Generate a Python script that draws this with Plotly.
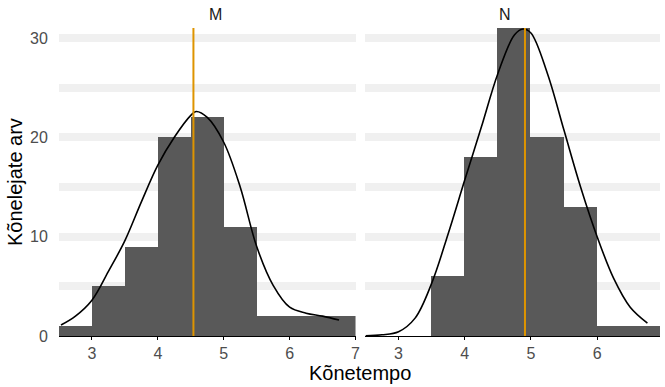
import plotly.graph_objects as go

# Histogram bins (width 0.5) shared by both panels
bin_left = [2.5, 3.0, 3.5, 4.0, 4.5, 5.0, 5.5, 6.0, 6.5]
bin_width = 0.5

# Counts per bin
counts_m = [1, 5, 9, 20, 22, 11, 2, 2, 2]
counts_n = [0, 0, 6, 18, 31, 20, 13, 1, 1]

# Mean speech tempo per group
mean_m = 4.54
mean_n = 4.91

# Density curves scaled to counts
dens_x_m = [2.53, 2.75, 3.0, 3.25, 3.5, 3.75, 4.0, 4.25, 4.5, 4.58, 4.75, 5.0, 5.25, 5.5, 5.75, 6.0, 6.25, 6.5, 6.75]
dens_y_m = [1.1, 2.0, 3.6, 6.5, 9.6, 13.5, 17.2, 20.0, 22.2, 22.6, 22.0, 19.5, 15.0, 9.0, 5.1, 2.9, 2.3, 2.0, 1.6]
dens_x_n = [2.5, 2.75, 3.0, 3.25, 3.5, 3.75, 4.0, 4.25, 4.5, 4.75, 4.88, 5.0, 5.25, 5.5, 5.75, 6.0, 6.25, 6.5, 6.76]
dens_y_n = [0.03, 0.12, 0.43, 1.8, 5.3, 10.3, 15.7, 21.0, 26.4, 30.3, 30.9, 30.5, 26.4, 20.7, 15.0, 10.0, 5.8, 2.9, 1.3]

groups = ["M", "N"]
y_ticks = [0, 10, 20, 30]
x_ticks = [3, 4, 5, 6, 7]

BAR = "#595959"
ORANGE = "#DE9400"
GRID = "#F0F0F0"
TICK_COLOR = "#4D4D4D"
FONT = "Liberation Sans, Arial, sans-serif"

centers = [b + bin_width / 2 for b in bin_left]

fig = go.Figure()
panels = [
    ("x", "y", counts_m, dens_x_m, dens_y_m, mean_m),
    ("x2", "y2", counts_n, dens_x_n, dens_y_n, mean_n),
]
for xa, ya, counts, dx, dy, mu in panels:
    fig.add_trace(go.Bar(x=centers, y=counts, width=bin_width, marker_color=BAR,
                         marker_line_width=0, xaxis=xa, yaxis=ya, showlegend=False))
    fig.add_trace(go.Scatter(x=dx, y=dy, mode="lines", line=dict(color="black", width=1.6, shape="spline"),
                             xaxis=xa, yaxis=ya, showlegend=False))
    fig.add_shape(type="line", xref=xa, yref=ya + " domain", x0=mu, x1=mu, y0=0, y1=1,
                  line=dict(color=ORANGE, width=2), layer="above")

xaxis_common = dict(
    tickvals=x_ticks, ticks="outside", ticklen=3, tickcolor="black", tickwidth=1,
    showline=True, linecolor="black", linewidth=1.3, showgrid=False, zeroline=False,
    tickfont=dict(size=16, color=TICK_COLOR, family=FONT),
)
yaxis_common = dict(
    range=[0, 31], tickvals=y_ticks, showgrid=True, gridcolor=GRID, gridwidth=8,
    minor=dict(dtick=5, showgrid=True, gridcolor=GRID, gridwidth=8),
    zeroline=False, showline=False, ticks="outside", ticklen=7, tickcolor="rgba(0,0,0,0)",
    tickfont=dict(size=16, color=TICK_COLOR, family=FONT),
)

fig.update_layout(
    width=665, height=387,
    margin=dict(l=59, r=0, t=28, b=51),
    plot_bgcolor="white", paper_bgcolor="white",
    bargap=0,
    xaxis=dict(domain=[0, 0.4934], range=[2.5, 7.0], **xaxis_common),
    xaxis2=dict(domain=[0.5099, 1], range=[2.5, 6.95], **xaxis_common),
    yaxis=dict(anchor="x", **yaxis_common),
    yaxis2=dict(anchor="x2", showticklabels=False, **yaxis_common),
    font=dict(family=FONT),
    annotations=[
        dict(text=groups[0], x=0.5 * 0.4934, y=1, xref="paper", yref="paper", yanchor="bottom",
             yshift=3, showarrow=False, font=dict(size=16, color="#1A1A1A", family=FONT)),
        dict(text=groups[1], x=(0.5099 + 1) / 2, y=1, xref="paper", yref="paper", yanchor="bottom",
             yshift=3, showarrow=False, font=dict(size=16, color="#1A1A1A", family=FONT)),
        dict(text="Kõnetempo", x=0.5, y=0, xref="paper", yref="paper", yanchor="middle",
             yshift=-37, showarrow=False, font=dict(size=20, color="black", family=FONT)),
        dict(text="Kõnelejate arv", x=0, y=0.5, xref="paper", yref="paper", xanchor="center",
             xshift=-44, textangle=-90, showarrow=False, font=dict(size=20, color="black", family=FONT)),
    ],
)

fig.write_html("out.html")
